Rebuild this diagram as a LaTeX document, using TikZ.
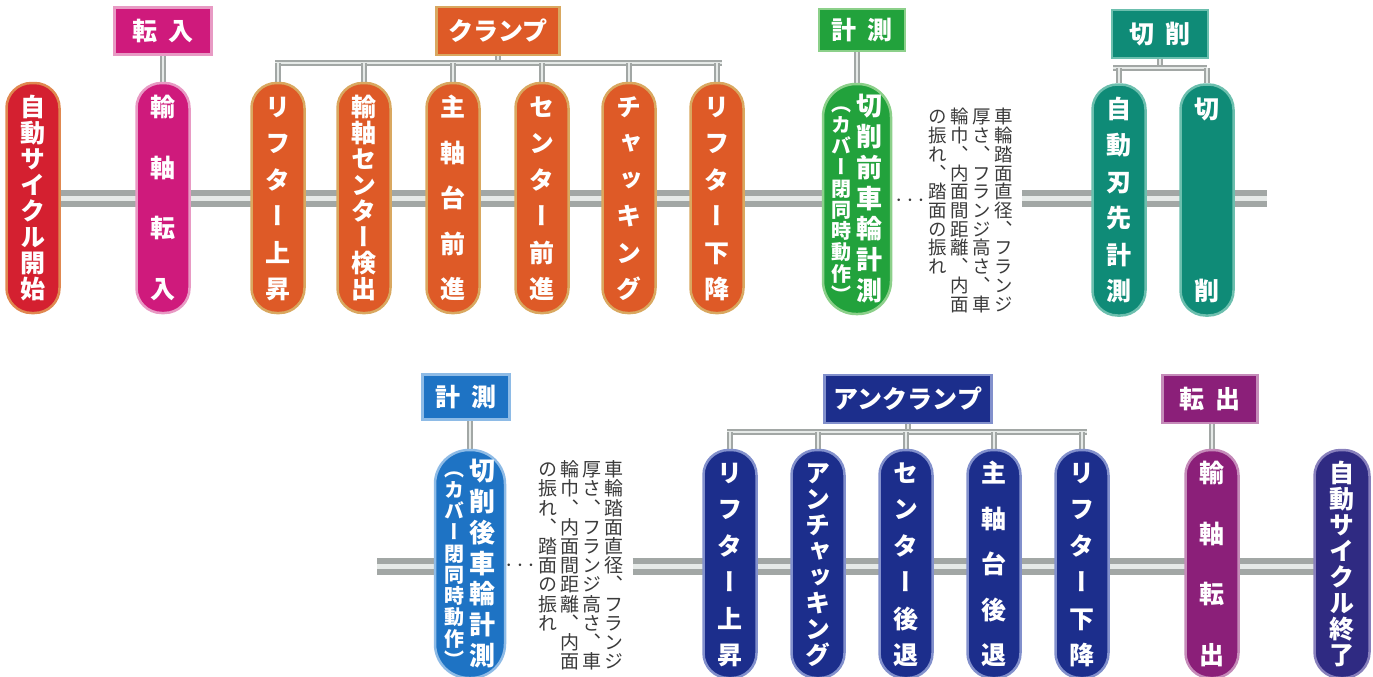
\documentclass[tikz,border=0pt]{standalone}
\usepackage{fontspec}
\newfontfamily\jpv[RawFeature=+vert]{Noto Sans CJK JP}
\newfontfamily\jph{Noto Sans CJK JP}
\usetikzlibrary{backgrounds}
\definecolor{cRed}{HTML}{D42030}\definecolor{bRed}{HTML}{E08850}
\definecolor{cMag}{HTML}{CF1A7C}\definecolor{bMag}{HTML}{E89AC4}
\definecolor{cOra}{HTML}{DE5A27}\definecolor{bOra}{HTML}{D9A860}
\definecolor{cGrn}{HTML}{22A23C}\definecolor{bGrn}{HTML}{8CD08A}
\definecolor{cTeal}{HTML}{0F8B77}\definecolor{bTeal}{HTML}{6CBFAE}
\definecolor{cBlu}{HTML}{1E73C4}\definecolor{bBlu}{HTML}{8EBBE6}
\definecolor{cNav}{HTML}{1C2E8C}\definecolor{bNav}{HTML}{8290CC}
\definecolor{cPur}{HTML}{8B1F79}\definecolor{bPur}{HTML}{C58BB9}
\definecolor{cInd}{HTML}{2F2A82}\definecolor{bInd}{HTML}{8880BC}
\definecolor{pipeA}{HTML}{A2A7A5}\definecolor{pipeB}{HTML}{E6EAE8}
\definecolor{txt}{HTML}{3A3A3A}
\ExplSyntaxOn
\bool_new:N \l_vt_first_bool
\NewDocumentCommand \VT { m m }
 {
  \parbox[c][#1][s]{1em}
   {
    \offinterlineskip
    \bool_set_true:N \l_vt_first_bool
    \clist_map_inline:nn {#2}
     {
      \bool_if:NF \l_vt_first_bool { \vfill }
      \bool_set_false:N \l_vt_first_bool
      \hbox_to_wd:nn {1em} { \hss \vrule height .88em depth .12em width 0pt ##1 \hss }
     }
   }
 }
\ExplSyntaxOff
\tikzset{
  pill/.style 2 args={rectangle, rounded corners=25pt, fill=#1, draw=#2, line width=2.5pt,
    minimum width=53pt, minimum height=230pt, inner sep=0pt, text=white,
    font=\jpv\bfseries\fontsize{25}{25}\selectfont},
  lbl/.style 2 args={rectangle, fill=#1, draw=#2, line width=2.5pt, inner sep=0pt, text=white,
    font=\jph\bfseries\fontsize{25}{25}\selectfont},
  side/.style={inner sep=0pt, text=txt},
  dotsn/.style={inner sep=0pt, text=txt, font=\fontsize{24}{24}\selectfont},
  mpipe/.style={line width=17pt, draw=pipeA, postaction={draw=pipeB, line width=5pt}},
  tpipe/.style={line width=6pt, draw=pipeA, postaction={draw=pipeB, line width=2pt}},
}
\begin{document}
\begin{tikzpicture}[x=1pt, y=-1pt]
\useasboundingbox (0,0) rectangle (1373,677);
% ---------- top row ----------
\node[pill={cRed}{bRed}] (s1) at (33,198) {\VT{204pt}{自,動,サ,イ,ク,ル,開,始}};
\node[lbl={cMag}{bMag}, minimum width=97pt, minimum height=47pt] (b1) at (163,31) {転\hspace{.45em}入};
\node[pill={cMag}{bMag}] (s2) at (163,198) {\VT{204pt}{輸,軸,転,入}};
\node[lbl={cOra}{bOra}, minimum width=123pt, minimum height=48pt] (bc) at (498,31) {クランプ};
\node[pill={cOra}{bOra}] (c1) at (278,198) {\VT{204pt}{リ,フ,タ,ー,上,昇}};
\node[pill={cOra}{bOra}] (c2) at (364,198) {\VT{204pt}{輸,軸,セ,ン,タ,ー,検,出}};
\node[pill={cOra}{bOra}] (c3) at (453,198) {\VT{204pt}{主,軸,台,前,進}};
\node[pill={cOra}{bOra}] (c4) at (542,198) {\VT{204pt}{セ,ン,タ,ー,前,進}};
\node[pill={cOra}{bOra}] (c5) at (629,198) {\VT{204pt}{チ,ャ,ッ,キ,ン,グ}};
\node[pill={cOra}{bOra}] (c6) at (717,198) {\VT{204pt}{リ,フ,タ,ー,下,降}};
\node[lbl={cGrn}{bGrn}, minimum width=86pt, minimum height=42pt] (bg) at (862,30) {計\hspace{.45em}測};
\node[pill={cGrn}{bGrn}, minimum width=68pt, rounded corners=33pt, font=\jpv\bfseries\fontsize{26}{26}\selectfont] (g1) at (857,199)
  {{\fontsize{20}{20}\selectfont\VT{209pt}{（,カ,バ,ー,閉,同,時,動,作,）}}\hspace{5pt}\VT{207pt}{切,削,前,車,輪,計,測}};
\node[dotsn] (d1) at (910,201) {$\cdots$};
\node[side, font=\jpv\fontsize{18.5}{18.5}\selectfont] (st) at (971,210.5)
  {\VT{11em}{の,振,れ,、,踏,面,の,振,れ,\relax,\relax}\hspace{3.5pt}\VT{11em}{輪,巾,、,内,面,間,距,離,、,内,面}\hspace{3.5pt}\VT{11em}{厚,さ,、,フ,ラ,ン,ジ,高,さ,、,車}\hspace{3.5pt}\VT{11em}{車,輪,踏,面,直,径,、,フ,ラ,ン,ジ}};
\node[lbl={cTeal}{bTeal}, minimum width=96pt, minimum height=48pt] (bk) at (1160,34) {切\hspace{.45em}削};
\node[pill={cTeal}{bTeal}, minimum height=231pt] (k1) at (1119,200) {\VT{204pt}{自,動,刃,先,計,測}};
\node[pill={cTeal}{bTeal}, minimum height=231pt] (k2) at (1207,200) {\VT{204pt}{切,削}};
\coordinate (tR) at (1267,198);
\coordinate (cbar) at (0,63);
\coordinate (kbar) at (0,68);
% ---------- bottom row ----------
\node[lbl={cBlu}{bBlu}, minimum width=87pt, minimum height=45pt] (bb) at (466,397) {計\hspace{.45em}測};
\node[pill={cBlu}{bBlu}, minimum width=70pt, minimum height=228pt, rounded corners=34pt, font=\jpv\bfseries\fontsize{26}{26}\selectfont] (m2) at (470,564)
  {{\fontsize{20}{20}\selectfont\VT{209pt}{（,カ,バ,ー,閉,同,時,動,作,）}}\hspace{5pt}\VT{207pt}{切,削,後,車,輪,計,測}};
\node[dotsn] (d2) at (520,566) {$\cdots$};
\node[side, font=\jpv\fontsize{19}{19}\selectfont] (sb) at (581,565.5)
  {\VT{11em}{の,振,れ,、,踏,面,の,振,れ,\relax,\relax}\hspace{3pt}\VT{11em}{輪,巾,、,内,面,間,距,離,、,内,面}\hspace{3pt}\VT{11em}{厚,さ,、,フ,ラ,ン,ジ,高,さ,、,車}\hspace{3pt}\VT{11em}{車,輪,踏,面,直,径,、,フ,ラ,ン,ジ}};
\node[lbl={cNav}{bNav}, minimum width=167pt, minimum height=48pt] (bu) at (908,399) {アンクランプ};
\node[pill={cNav}{bNav}, minimum height=228pt] (u1) at (730,564) {\VT{204pt}{リ,フ,タ,ー,上,昇}};
\node[pill={cNav}{bNav}, minimum height=228pt] (u2) at (818,564) {\VT{204pt}{ア,ン,チ,ャ,ッ,キ,ン,グ}};
\node[pill={cNav}{bNav}, minimum height=228pt] (u3) at (906,564) {\VT{204pt}{セ,ン,タ,ー,後,退}};
\node[pill={cNav}{bNav}, minimum height=228pt] (u4) at (994,564) {\VT{204pt}{主,軸,台,後,退}};
\node[pill={cNav}{bNav}, minimum height=228pt] (u5) at (1082,564) {\VT{204pt}{リ,フ,タ,ー,下,降}};
\node[lbl={cPur}{bPur}, minimum width=95pt, minimum height=48pt] (bo) at (1210,399) {転\hspace{.45em}出};
\node[pill={cPur}{bPur}, minimum height=228pt] (o1) at (1212,564) {\VT{204pt}{輸,軸,転,出}};
\node[pill={cInd}{bInd}, minimum width=55pt, minimum height=228pt, rounded corners=26pt] (e1) at (1342,564) {\VT{204pt}{自,動,サ,イ,ク,ル,終,了}};
\coordinate (bL) at (377,566);
\coordinate (ubar) at (0,432);
% ---------- pipes ----------
\begin{scope}[on background layer]
  \draw[mpipe] (s1.center) -- (s1.center -| g1.center);
  \draw[mpipe, shorten <=9pt] (s1 -| st.east) -- (tR);
  \draw[tpipe] (s2.north |- b1.south) -- (s2.north);
  \draw[tpipe] (g1.north |- bg.south) -- (g1.north);
  \draw[tpipe] (bc.south) -- (bc.south |- cbar);
  \draw[tpipe, shorten <=-3pt, shorten >=-5pt] (c1.north |- cbar) -- (c6.north |- cbar);
  \foreach \n in {c1,c2,c3,c4,c5,c6} \draw[tpipe] (\n.north |- cbar) -- (\n.north);
  \draw[tpipe] (bk.south) -- (bk.south |- kbar);
  \draw[tpipe, shorten <=-6pt] (k1.north |- kbar) -- (k2.north |- kbar);
  \foreach \n in {k1,k2} \draw[tpipe] (\n.north |- kbar) -- (\n.north);
  \draw[mpipe] (bL) -- (bL -| m2.center);
  \draw[mpipe, shorten <=9pt] (bL -| sb.east) -- (bL -| e1.center);
  \draw[tpipe] (m2.north |- bb.south) -- (m2.north);
  \draw[tpipe] (bu.south) -- (bu.south |- ubar);
  \draw[tpipe, shorten <=-3pt, shorten >=-5pt] (u1.north |- ubar) -- (u5.north |- ubar);
  \foreach \n in {u1,u2,u3,u4,u5} \draw[tpipe] (\n.north |- ubar) -- (\n.north);
  \draw[tpipe] (o1.north |- bo.south) -- (o1.north);
\end{scope}
\end{tikzpicture}
\end{document}
